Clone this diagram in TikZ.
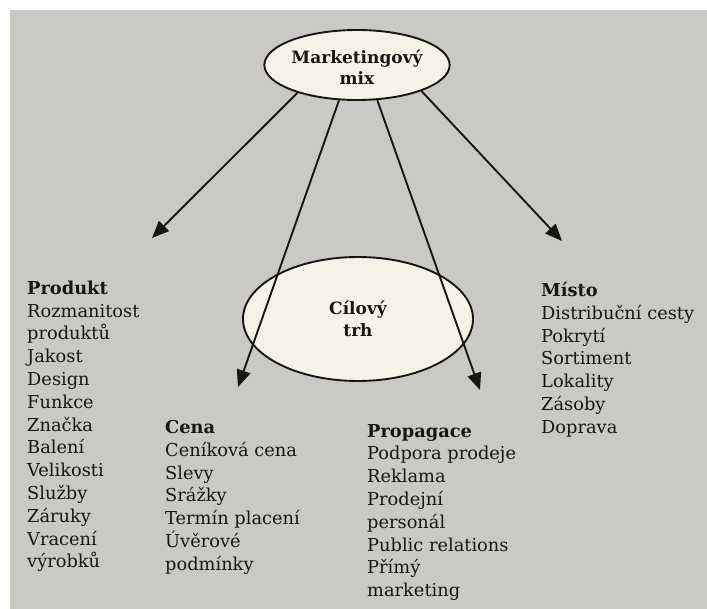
\documentclass[tikz,border=0pt]{standalone}
\usepackage{fontspec}
\setmainfont{DejaVu Serif}
\usetikzlibrary{shapes.geometric,arrows.meta}
\definecolor{paper}{RGB}{203,201,195}
\definecolor{cream}{RGB}{246,243,230}
\definecolor{ink}{RGB}{24,22,20}
\begin{document}
\begin{tikzpicture}[x=1pt,y=-1pt,
  bubble/.style={ellipse, draw=ink, line width=1.9pt, fill=cream, inner sep=0pt,
    align=center, text=ink, font=\bfseries\fontsize{17}{22}\selectfont},
  listing/.style={anchor=north west, inner sep=0pt, align=left, text=ink,
    font=\fontsize{17.8}{22.8}\selectfont},
  link/.style={draw=ink, line width=1.9pt, -{Triangle[length=17pt,width=14pt]}}]
  \useasboundingbox (0,0) rectangle (707,609);
  \fill[white] (0,0) rectangle (707,609);
  \fill[paper] (10,10) rectangle (707,609);

  % central ellipses
  \node[bubble, minimum width=230pt, minimum height=124pt] (trh) at (358,319) {Cílový\\trh};
  \node[bubble, minimum width=156pt, minimum height=70pt] (mix) at (357,65)
    {\rule{0pt}{19pt}Marketingový\\[-1pt]mix};

  % arrow targets
  \coordinate (tipP) at (152,238);
  \coordinate (tipC) at (238,387);
  \coordinate (tipR) at (480,390);
  \coordinate (tipM) at (562,241);

  % the four Ps
  \node[listing] (produkt) at (27,280.5) {\textbf{Produkt}\\Rozmanitost\\produktů\\Jakost\\Design\\Funkce\\Značka\\Balení\\Velikosti\\Služby\\Záruky\\Vracení\\výrobků};
  \node[listing] (cena) at (165,420) {\textbf{Cena}\\Ceníková cena\\Slevy\\Srážky\\Termín placení\\Úvěrové\\podmínky};
  \node[listing] (propagace) at (367,424) {\textbf{Propagace}\\Podpora prodeje\\Reklama\\Prodejní\\personál\\Public relations\\Přímý\\marketing};
  \node[listing] (misto) at (541,282) {\textbf{Místo}\\Distribuční cesty\\Pokrytí\\Sortiment\\Lokality\\Zásoby\\Doprava};

  % connectors
  \draw[link] (mix.205) -- (tipP);
  \draw[link] (mix.243) -- (tipC);
  \draw[link] (mix.300) -- (tipR);
  \draw[link] (mix.338) -- (tipM);
\end{tikzpicture}
\end{document}
